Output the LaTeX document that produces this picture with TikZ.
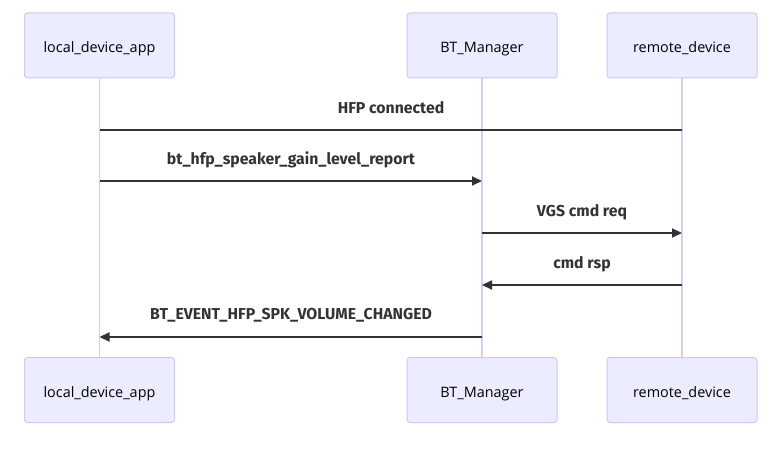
\documentclass[tikz,border=0pt]{standalone}
\usepackage{fontspec}
\setmainfont{Open Sans}
\newfontfamily\msgfont{Fira Sans}
\usetikzlibrary{arrows.meta}
\definecolor{actfill}{HTML}{ECECFF}
\definecolor{actdraw}{HTML}{CFC7F2}
\definecolor{lifecol}{HTML}{D6CCF5}
\definecolor{msgcol}{HTML}{333333}
\begin{document}
\begin{tikzpicture}[x=1pt,y=-1pt,
  actor/.style={draw=actdraw,fill=actfill,line width=1pt,rounded corners=3pt,minimum width=150pt,minimum height=65pt,inner sep=0pt,text height=14.5pt,text depth=0pt,font=\fontsize{14.4}{16}\selectfont,text=black},
  life/.style={draw=lifecol,line width=1.6pt},
  msg/.style={draw=msgcol,line width=2pt},
  msgarr/.style={msg,-{Triangle[length=10pt,width=9pt]}},
  msglbl/.style={font=\msgfont\bfseries\fontsize{15.8}{18}\selectfont,text=msgcol,inner sep=0pt}]
\useasboundingbox (0,0) rectangle (777,449);
\node[actor] (la) at (99.5,45.5) {local\_device\_app};
\node[actor] (bm) at (482,45.5) {BT\_Manager};
\node[actor] (rd) at (682,45.5) {remote\_device};
\node[actor] (la2) at (99.5,390) {local\_device\_app};
\node[actor] (bm2) at (482,390) {BT\_Manager};
\node[actor] (rd2) at (682,390) {remote\_device};
\draw[life] (la.south) -- (la2.north);
\draw[life] (bm.south) -- (bm2.north);
\draw[life] (rd.south) -- (rd2.north);
% messages
\coordinate (r1) at (682,130); \coordinate (l1) at (99.5,130);
\draw[msg] (r1) -- (l1);
\node[msglbl] (t1) at (391,107.5) {HFP connected};
\coordinate (l2) at (99.5,181); \coordinate (b2) at (482,181);
\draw[msgarr] (l2) -- (b2);
\node[msglbl] (t2) at (291,159.5) {bt\_hfp\_speaker\_gain\_level\_report};
\coordinate (b3) at (482,233); \coordinate (r3) at (682,233);
\draw[msgarr] (b3) -- (r3);
\node[msglbl] (t3) at (582,212.5) {VGS cmd req};
\coordinate (r4) at (682,285); \coordinate (b4) at (482,285);
\draw[msgarr] (r4) -- (b4);
\node[msglbl] (t4) at (582,264.5) {cmd rsp};
\coordinate (b5) at (482,337); \coordinate (l5) at (99.5,337);
\draw[msgarr] (b5) -- (l5);
\node[msglbl] (t5) at (291,315.5) {BT\_EVENT\_HFP\_SPK\_VOLUME\_CHANGED};
\end{tikzpicture}
\end{document}
